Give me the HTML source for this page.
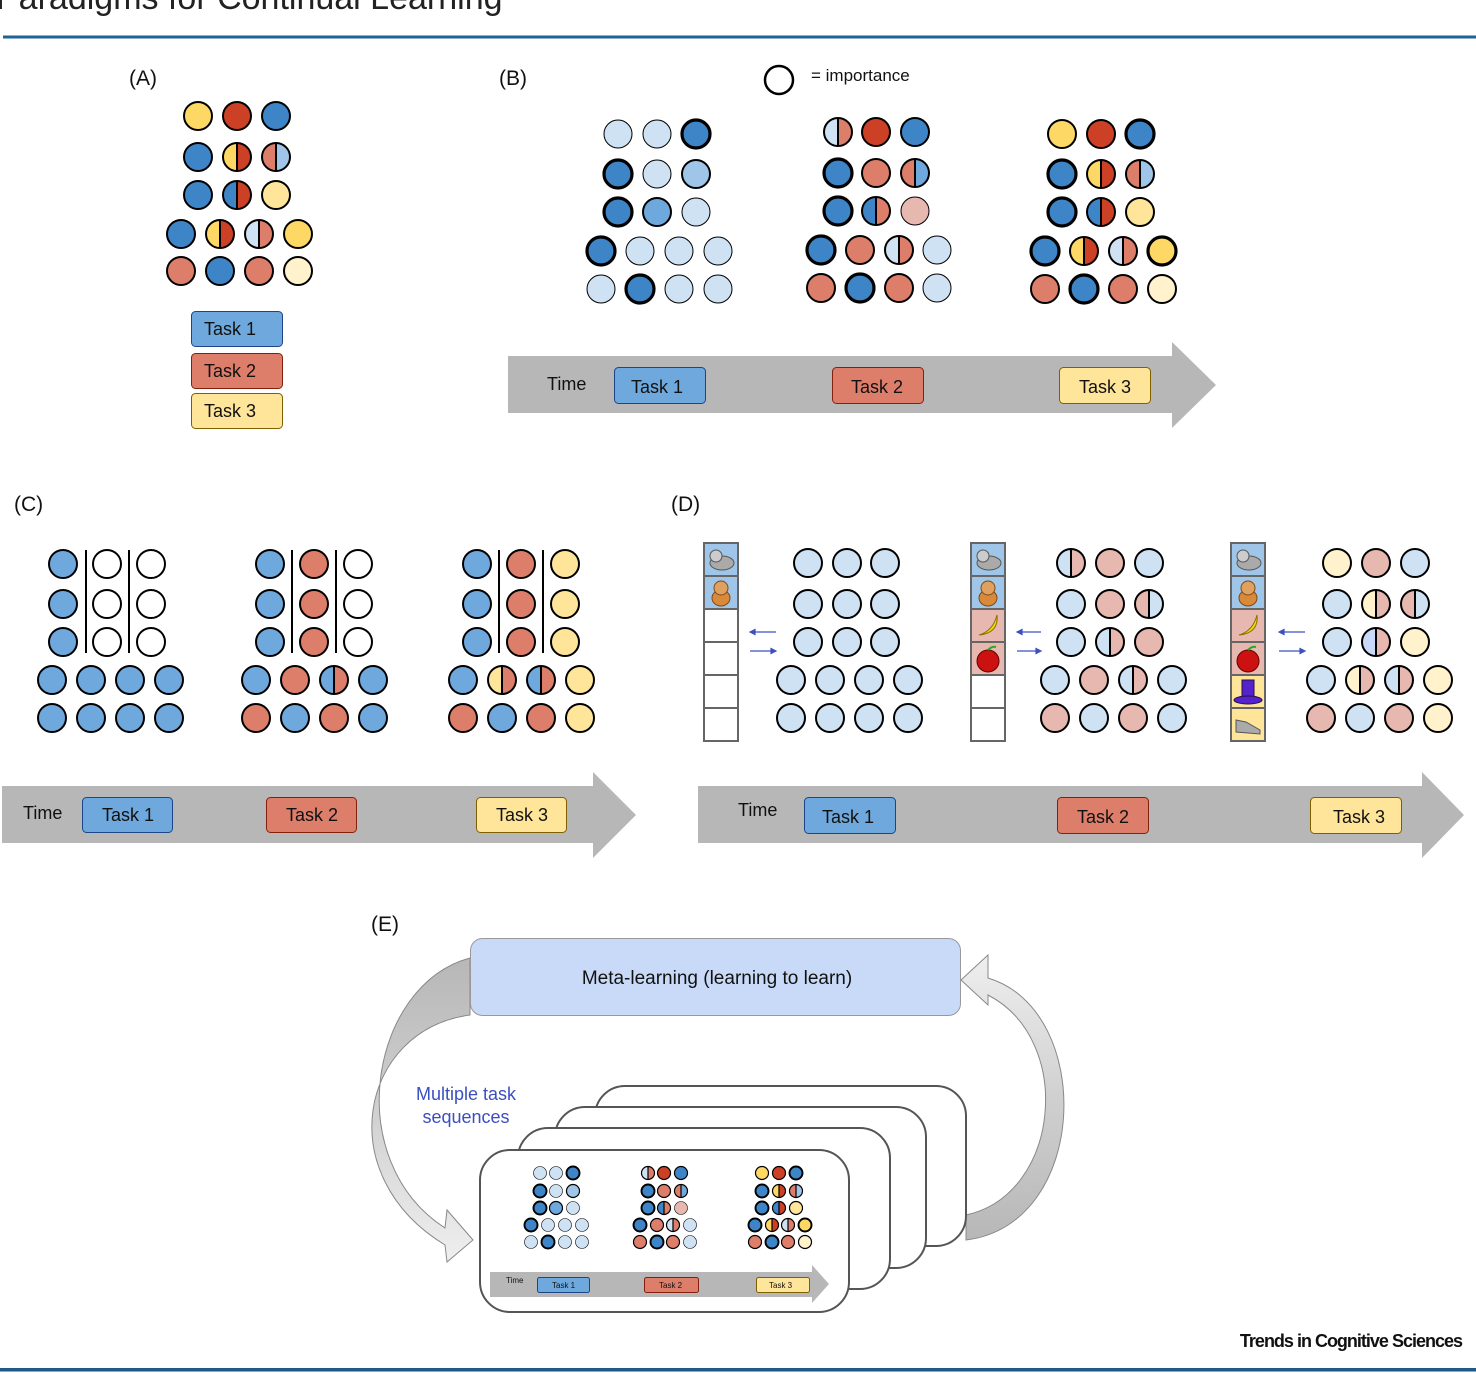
<!DOCTYPE html>
<html><head><meta charset="utf-8"><style>
html,body{margin:0;padding:0;background:#fff;}
svg{display:block;font-family:"Liberation Sans",sans-serif;}
</style></head><body>
<svg id="s" width="1476" height="1389" viewBox="0 0 1476 1389" xmlns="http://www.w3.org/2000/svg">
<defs>
<linearGradient id="gl" x1="0" y1="0" x2="0" y2="1"><stop offset="0" stop-color="#b7b7b7"/><stop offset="0.5" stop-color="#d0d0d0"/><stop offset="1" stop-color="#efefef"/></linearGradient>
<linearGradient id="gr" x1="0" y1="1" x2="0" y2="0"><stop offset="0" stop-color="#b7b7b7"/><stop offset="0.5" stop-color="#d0d0d0"/><stop offset="1" stop-color="#efefef"/></linearGradient>
</defs>
<text x="-4" y="9" font-size="34" fill="#222">Paradigms for Continual Learning</text>
<rect x="3" y="35.5" width="1473" height="3" fill="#1d6394"/>
<g font-size="21" fill="#111">
<text x="129" y="85">(A)</text><text x="499" y="85">(B)</text><text x="14" y="511">(C)</text><text x="671" y="511">(D)</text><text x="371" y="931">(E)</text>
</g>
<circle cx="779" cy="80" r="14" fill="#fff" stroke="#000" stroke-width="2.5"/>
<text x="811" y="81" font-size="17" fill="#111">= importance</text>
<g font-size="18" fill="#111">
<rect x="191.5" y="311.5" width="91" height="35" rx="4" fill="#6fa8dc" stroke="#1c4587"/><text x="204" y="335">Task 1</text>
<rect x="191.5" y="353.5" width="91" height="35" rx="4" fill="#dd7e6b" stroke="#85200c"/><text x="204" y="377">Task 2</text>
<rect x="191.5" y="393.5" width="91" height="35" rx="4" fill="#ffe599" stroke="#7f6000"/><text x="204" y="417">Task 3</text>
</g>
<path d="M508,356 H1172 V342 L1216,385 L1172,428 V413 H508 Z" fill="#b7b7b7"/>
<path d="M2,786 H593 V772 L636,815 L593,858 V843 H2 Z" fill="#b7b7b7"/>
<path d="M698,786 H1422 V772 L1464,815 L1422,858 V843 H698 Z" fill="#b7b7b7"/>
<g font-size="18" fill="#111">
<text x="547" y="390">Time</text>
<rect x="614.5" y="367.5" width="91" height="36" rx="4" fill="#6fa8dc" stroke="#1c4587"/><text x="631" y="393">Task 1</text>
<rect x="832.5" y="367.5" width="91" height="36" rx="4" fill="#dd7e6b" stroke="#85200c"/><text x="851" y="393">Task 2</text>
<rect x="1059.5" y="367.5" width="91" height="36" rx="4" fill="#ffe599" stroke="#7f6000"/><text x="1079" y="393">Task 3</text>
<text x="23" y="819">Time</text>
<rect x="82.5" y="797.5" width="90" height="35" rx="4" fill="#6fa8dc" stroke="#1c4587"/><text x="102" y="821">Task 1</text>
<rect x="266.5" y="797.5" width="90" height="35" rx="4" fill="#dd7e6b" stroke="#85200c"/><text x="286" y="821">Task 2</text>
<rect x="476.5" y="797.5" width="90" height="35" rx="4" fill="#ffe599" stroke="#7f6000"/><text x="496" y="821">Task 3</text>
<text x="738" y="816">Time</text>
<rect x="804.5" y="797.5" width="91" height="36" rx="4" fill="#6fa8dc" stroke="#1c4587"/><text x="822" y="823">Task 1</text>
<rect x="1057.5" y="797.5" width="91" height="36" rx="4" fill="#dd7e6b" stroke="#85200c"/><text x="1077" y="823">Task 2</text>
<rect x="1310.5" y="797.5" width="91" height="36" rx="4" fill="#ffe599" stroke="#7f6000"/><text x="1333" y="823">Task 3</text>
</g>
<g stroke="#000" stroke-width="2">
<line x1="86" y1="550" x2="86" y2="653"/><line x1="129" y1="550" x2="129" y2="653"/>
<line x1="292" y1="550" x2="292" y2="653"/><line x1="336" y1="550" x2="336" y2="653"/>
<line x1="499" y1="550" x2="499" y2="653"/><line x1="543" y1="550" x2="543" y2="653"/>
</g>
<g stroke="#3d50c0" stroke-width="1.2" fill="#3d50c0">
<line x1="752" y1="632" x2="776" y2="632"/><path d="M750,632 l5,-2.5 v5z"/>
<line x1="750" y1="651" x2="774" y2="651"/><path d="M776,651 l-5,-2.5 v5z"/>
<line x1="1019" y1="632" x2="1041" y2="632"/><path d="M1017,632 l5,-2.5 v5z"/>
<line x1="1017" y1="651" x2="1039" y2="651"/><path d="M1041,651 l-5,-2.5 v5z"/>
<line x1="1281" y1="632" x2="1305" y2="632"/><path d="M1279,632 l5,-2.5 v5z"/>
<line x1="1279" y1="651" x2="1303" y2="651"/><path d="M1305,651 l-5,-2.5 v5z"/>
</g>
<path d="M470,958 C370,985 340,1160 445,1228 L447,1210 L473,1240 L447,1262 L445,1245 C330,1175 360,1030 470,1015 Z" fill="url(#gl)" stroke="#888" stroke-width="1"/>
<path d="M966,1240 C1090,1225 1095,1010 988,978 L988,955 L961,980 L988,1005 L988,995 C1075,1040 1060,1195 966,1215 Z" fill="url(#gr)" stroke="#888" stroke-width="1"/>
<rect x="470.5" y="938.5" width="490" height="77" rx="12" fill="#c9daf8" stroke="#999"/>
<text x="717" y="984" font-size="19" text-anchor="middle" fill="#111">Meta-learning (learning to learn)</text>
<text x="466" y="1100" font-size="18" text-anchor="middle" fill="#3c4fc0">Multiple task</text>
<text x="466" y="1123" font-size="18" text-anchor="middle" fill="#3c4fc0">sequences</text>
<g fill="#fff" stroke="#555" stroke-width="2">
<rect x="595" y="1086" width="371" height="160" rx="30"/>
<rect x="555" y="1107" width="371" height="161" rx="30"/>
<rect x="518" y="1128" width="372" height="161" rx="30"/>
<rect x="480" y="1150" width="369" height="162" rx="30"/>
</g>
<path d="M490,1272 H812 V1265 L829,1284 L812,1303 V1297 H490 Z" fill="#b7b7b7"/>
<g font-size="8" fill="#111">
<text x="506" y="1283">Time</text>
<rect x="537.5" y="1277.5" width="52" height="15" rx="2" fill="#6fa8dc" stroke="#1c4587"/><text x="552" y="1288">Task 1</text>
<rect x="644.5" y="1277.5" width="54" height="15" rx="2" fill="#dd7e6b" stroke="#85200c"/><text x="659" y="1288">Task 2</text>
<rect x="756.5" y="1277.5" width="53" height="15" rx="2" fill="#ffe599" stroke="#7f6000"/><text x="769" y="1288">Task 3</text>
</g>
<g id="dots"></g>
<text x="1462" y="1347" font-size="18" font-weight="bold" text-anchor="end" letter-spacing="-1" fill="#111">Trends in Cognitive Sciences</text>
<rect x="0" y="1368" width="1476" height="3" fill="#1d5a8a"/>
<rect x="0" y="1371" width="1476" height="1" fill="#8ab"/>
</svg>
<script>
var NS="http://www.w3.org/2000/svg",G=document.getElementById("dots");
var C={Y:"#fdd865",R:"#cc4125",B:"#3d85c6",L:"#cfe2f3",M:"#9fc5e8",N:"#6fa8dc",P:"#dd7e6b",Q:"#ffe599",C:"#fff2cc",K:"#e6b8af",W:"#ffffff",V:"#c9daf8"};
function el(t,a){var e=document.createElementNS(NS,t);for(var k in a)e.setAttribute(k,a[k]);G.appendChild(e);return e;}
function circ(x,y,r,s,sw){
 var w=sw, f=s;
 if(s.indexOf("!")>=0){w=sw*1.6;f=s.replace("!","");}
 if(s.indexOf("~")>=0){w=sw*0.5;f=s.replace("~","");}
 if(f.indexOf("|")>=0){
  var p=f.split("|");
  el("path",{d:"M"+x+","+(y-r)+" A"+r+","+r+" 0 0 0 "+x+","+(y+r)+" Z",fill:C[p[0]]});
  el("path",{d:"M"+x+","+(y-r)+" A"+r+","+r+" 0 0 1 "+x+","+(y+r)+" Z",fill:C[p[1]]});
  el("line",{x1:x,y1:y-r,x2:x,y2:y+r,stroke:"#000","stroke-width":w});
  el("circle",{cx:x,cy:y,r:r,fill:"none",stroke:"#000","stroke-width":w});
 } else el("circle",{cx:x,cy:y,r:r,fill:C[f],stroke:"#000","stroke-width":w});
}
function grp(x3,x4,ys,rows,r,sw){
 for(var i=0;i<5;i++){var xs=i<3?x3:x4;for(var j=0;j<rows[i].length;j++)circ(xs[j],ys[i],r,rows[i][j],sw);}
}
var A=[["Y","R","B"],["B","Y|R","P|M"],["B","B|R","Q"],["B","Y|R","L|P","Y"],["P","B","P","C"]];
var B1=[["L~","L~","B!"],["B!","L~","M"],["B!","N","L~"],["B!","L~","L~","L~"],["L~","B!","L~","L~"]];
var B2=[["L|P","R","B"],["B!","P","P|N"],["B!","B|P","K~"],["B!","P","L|P","L~"],["P","B!","P","L~"]];
var B3=[["Y","R","B!"],["B!","Y|R","P|M"],["B!","B|R","Q"],["B!","Y|R","L|P","Y!"],["P","B!","P","C"]];
grp([198,237,276],[181,220,259,298],[116,157,195,234,271],A,14,2);
grp([618,657,696],[601,640,679,718],[134,174,212,251,289],B1,14,2);
grp([838,876,915],[821,860,899,937],[132,173,211,250,288],B2,14,2);
grp([1062,1101,1140],[1045,1084,1123,1162],[134,174,212,251,289],B3,14,2);
var Cy=[564,604,642,680,718];
grp([63,107,151],[52,91,130,169],Cy,[["N","W","W"],["N","W","W"],["N","W","W"],["N","N","N","N"],["N","N","N","N"]],14,2);
grp([270,314,358],[256,295,334,373],Cy,[["N","P","W"],["N","P","W"],["N","P","W"],["N","P","N|P","N"],["P","N","P","N"]],14,2);
grp([477,521,565],[463,502,541,580],Cy,[["N","P","Q"],["N","P","Q"],["N","P","Q"],["N","Q|P","N|P","Q"],["P","N","P","Q"]],14,2);
var Dy=[563,604,642,680,718];
grp([808,847,885],[791,830,869,908],Dy,[["L","L","L"],["L","L","L"],["L","L","L"],["L","L","L","L"],["L","L","L","L"]],14,2);
grp([1071,1110,1149],[1055,1094,1133,1172],Dy,[["L|K","K","L"],["L","K","K|L"],["L","L|K","K"],["L","K","L|K","L"],["K","L","K","L"]],14,2);
grp([1337,1376,1415],[1321,1360,1399,1438],Dy,[["C","K","L"],["L","C|K","K|L"],["L","V|K","C"],["L","C|K","L|K","C"],["K","L","K","C"]],14,2);
var Ey=[1173,1191,1208,1225,1242];
grp([540,556,573],[531,548,565,582],Ey,B1,6.5,1.2);
grp([648,664,681],[640,657,673,690],Ey,B2,6.5,1.2);
grp([762,779,796],[755,772,788,805],Ey,B3,6.5,1.2);
function strip(x,cols){
 for(var i=0;i<6;i++){var y=543+i*33;
  el("rect",{x:x,y:y,width:34,height:33,fill:cols[i]||"#fff",stroke:"#666","stroke-width":2});}
}
var b="#9fc5e8",k="#e6b8af",q="#ffe599";
strip(704,[b,b]);strip(971,[b,b,k,k]);strip(1231,[b,b,k,k,q,q]);
function icon(x,y,t){
 if(t=="cat"){el("ellipse",{cx:x+18,cy:y+20,rx:12,ry:7,fill:"#aaa",stroke:"#555"});el("circle",{cx:x+12,cy:y+13,r:6,fill:"#ccc",stroke:"#555"});}
 if(t=="dog"){el("ellipse",{cx:x+17,cy:y+22,rx:9,ry:8,fill:"#d9893a",stroke:"#7a4a1a"});el("circle",{cx:x+17,cy:y+12,r:7,fill:"#e0a060",stroke:"#7a4a1a"});}
 if(t=="ban"){el("path",{d:"M"+(x+8)+","+(y+26)+" Q"+(x+28)+","+(y+24)+" "+(x+26)+","+(y+6)+" Q"+(x+22)+","+(y+22)+" "+(x+8)+","+(y+26),fill:"#f5d90a",stroke:"#8a7000"});}
 if(t=="app"){el("circle",{cx:x+17,cy:y+19,r:11,fill:"#c11",stroke:"#600"});el("path",{d:"M"+(x+17)+","+(y+8)+" q4,-4 8,-3",stroke:"#2a2",fill:"none","stroke-width":2});}
 if(t=="hat"){el("rect",{x:x+11,y:y+5,width:12,height:18,fill:"#52c",stroke:"#214"});el("ellipse",{cx:x+17,cy:y+25,rx:14,ry:4,fill:"#52c",stroke:"#214"});}
 if(t=="sho"){el("path",{d:"M"+(x+5)+","+(y+24)+" l0,-12 l10,2 l14,8 l0,4 z",fill:"#aaa",stroke:"#555"});}
}
var ic=["cat","dog","ban","app","hat","sho"];
[[704,2],[971,4],[1231,6]].forEach(function(s){for(var i=0;i<s[1];i++)icon(s[0],543+i*33,ic[i]);});
</script>
</body></html>
